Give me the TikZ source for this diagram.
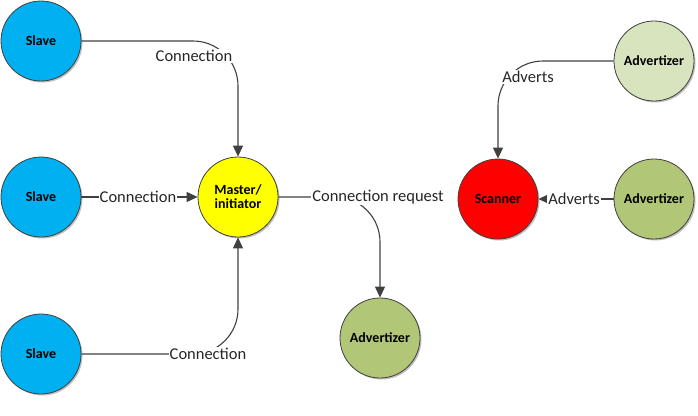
\documentclass[tikz,border=0pt]{standalone}
\usepackage{fontspec}
\setmainfont{Carlito}
\usetikzlibrary{arrows.meta,shadows}
\definecolor{slaveblue}{RGB}{0,176,240}
\definecolor{mastery}{RGB}{255,255,0}
\definecolor{scanred}{RGB}{255,0,0}
\definecolor{advlight}{RGB}{215,228,189}
\definecolor{advdark}{RGB}{178,198,120}
\definecolor{edgegray}{RGB}{64,64,64}
\tikzset{
  dev/.style={circle, draw=edgegray, line width=0.8pt, minimum size=80pt, inner sep=0pt,
    font=\fontsize{14}{15}\selectfont\bfseries, align=center,
    drop shadow={shadow xshift=1.5pt, shadow yshift=-1.5pt, opacity=0.25, fill=black}},
  slave/.style={dev, fill=slaveblue},
  master/.style={dev, fill=mastery},
  scanner/.style={dev, fill=scanred},
  advl/.style={dev, fill=advlight},
  advd/.style={dev, fill=advdark},
  conn/.style={draw=edgegray, line width=1.1pt, rounded corners=45pt,
    -{Triangle[length=11pt,width=10pt]}},
  lbl/.style={fill=white, inner sep=1pt, font=\fontsize{16.5}{18}\selectfont, text=black!85}
}
\begin{document}
\begin{tikzpicture}[x=1pt,y=-1pt]
\useasboundingbox (0,0) rectangle (698,415);
% nodes
\node[slave] (s1) at (41,41) {Slave};
\node[slave] (s2) at (41,197) {Slave};
\node[slave] (s3) at (41,354) {Slave};
\node[master] (m) at (238,197) {Master/\\[-1pt]initiator};
\node[scanner] (sc) at (498,199) {Scanner};
\node[advl] (a1) at (654,61) {Advertizer};
\node[advd] (a2) at (654,199) {Advertizer};
\node[advd] (a3) at (380,338) {Advertizer};
% connectors
\draw[conn] (s1.east) -| (m.north);
\node[lbl] (l1) at (194,56) {Connection};
\draw[conn] (s2.east) -- (m.west);
\node[lbl] (l2) at (138,197) {Connection};
\draw[conn] (s3.east) -| (m.south);
\node[lbl] (l3) at (208,354) {Connection};
\draw[conn] (m.east) -| (a3.north);
\node[lbl] (l4) at (378,197) {Connection request};
\draw[conn] (a1.west) -| (sc.north);
\node[lbl] (l5) at (528,77) {Adverts};
\draw[conn] (a2.west) -- (sc.east);
\node[lbl] (l6) at (574,199) {Adverts};
\end{tikzpicture}
\end{document}
